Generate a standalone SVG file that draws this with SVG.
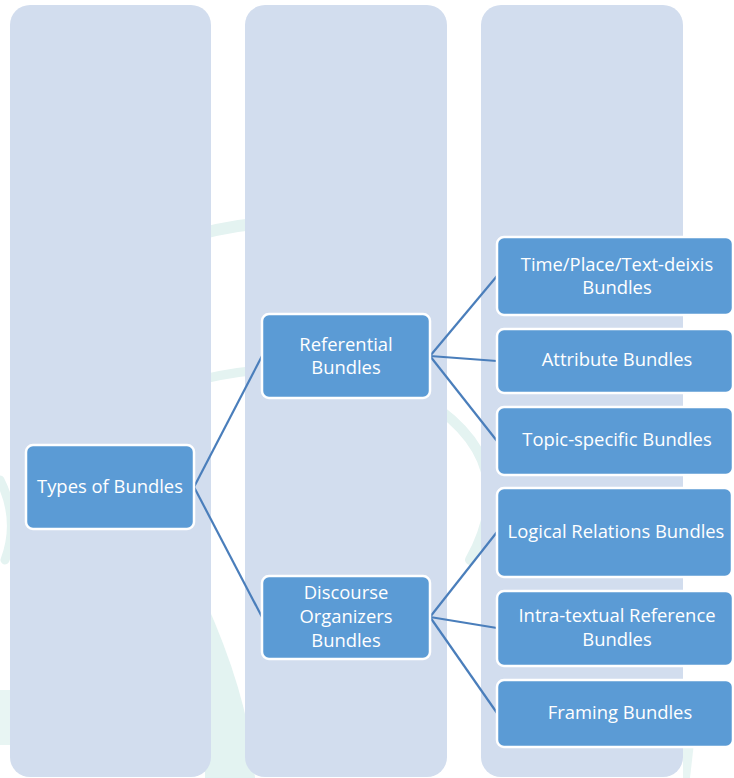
<svg xmlns="http://www.w3.org/2000/svg" width="734" height="778" viewBox="0 0 734 778">
<style>
.col{fill:#d2ddee}
.node{fill:#5b9bd5;stroke:#ffffff;stroke-width:2.5}
.lbl{fill:#ffffff;font-family:"Open Sans","Noto Sans",sans-serif;font-size:18.4px;text-anchor:middle}
.conn{stroke:#4a7ebb;stroke-width:2.2;fill:none}
.wm{fill:none;stroke:#e4f3f1;stroke-linecap:round}
</style>
<rect width="734" height="778" fill="#ffffff"/>
<g id="watermark">
<path class="wm" d="M 180 240 Q 300 200 420 250" stroke-width="12"/>
<path class="wm" d="M 180 385 Q 300 350 420 390" stroke-width="9"/>
<path class="wm" d="M 440 410 Q 520 470 470 560" stroke-width="10"/>
<path class="wm" d="M 0 480 Q 20 520 5 560" stroke-width="9"/>
<path d="M 205 600 Q 250 700 255 778 L 205 778 Z" fill="#e3f3f1"/>
<path d="M 0 690 L 12 690 L 12 745 L 0 745 Z" fill="#e8f5f3"/>
<path d="M 683 690 L 700 690 L 690 778 L 683 778 Z" fill="#e8f5f3"/>
</g>
<g id="columns">
<rect class="col" x="10" y="5" width="201" height="772" rx="20"/>
<rect class="col" x="245" y="5" width="202" height="772" rx="20"/>
<rect class="col" x="481" y="5" width="202" height="772" rx="20"/>
</g>
<g id="connectors">
<line class="conn" x1="194" y1="487" x2="262" y2="356"/>
<line class="conn" x1="194" y1="487" x2="262" y2="617"/>
<line class="conn" x1="430" y1="356" x2="497" y2="276"/>
<line class="conn" x1="430" y1="356" x2="497" y2="361"/>
<line class="conn" x1="430" y1="356" x2="497" y2="441"/>
<line class="conn" x1="430" y1="617" x2="497" y2="532"/>
<line class="conn" x1="430" y1="617" x2="497" y2="628"/>
<line class="conn" x1="430" y1="617" x2="497" y2="713"/>
</g>
<g id="types">
<rect class="node" x="26" y="445" width="168" height="84" rx="7"/>
<text class="lbl" x="110" y="493">Types of Bundles</text>
</g>
<g id="referential">
<rect class="node" x="262" y="314" width="168" height="84" rx="7"/>
<text class="lbl" x="346" y="351">Referential</text>
<text class="lbl" x="346" y="374">Bundles</text>
</g>
<g id="discourse">
<rect class="node" x="262" y="576" width="168" height="83" rx="7"/>
<text class="lbl" x="346" y="599">Discourse</text>
<text class="lbl" x="346" y="623">Organizers</text>
<text class="lbl" x="346" y="647">Bundles</text>
</g>
<g id="time">
<rect class="node" x="497" y="237" width="236" height="78" rx="7"/>
<text class="lbl" x="617" y="271">Time/Place/Text-deixis</text>
<text class="lbl" x="617" y="294">Bundles</text>
</g>
<g id="attribute">
<rect class="node" x="497" y="329" width="236" height="64" rx="7"/>
<text class="lbl" x="617" y="366">Attribute Bundles</text>
</g>
<g id="topic">
<rect class="node" x="497" y="407" width="236" height="68" rx="7"/>
<text class="lbl" x="617" y="446">Topic-specific Bundles</text>
</g>
<g id="logical">
<rect class="node" x="497" y="488" width="235" height="89" rx="7"/>
<text class="lbl" x="616" y="538">Logical Relations Bundles</text>
</g>
<g id="intra">
<rect class="node" x="497" y="591" width="236" height="75" rx="7"/>
<text class="lbl" x="617" y="622">Intra-textual Reference</text>
<text class="lbl" x="617" y="646">Bundles</text>
</g>
<g id="framing">
<rect class="node" x="497" y="680" width="236" height="67" rx="7"/>
<text class="lbl" x="620" y="719">Framing Bundles</text>
</g>
</svg>
